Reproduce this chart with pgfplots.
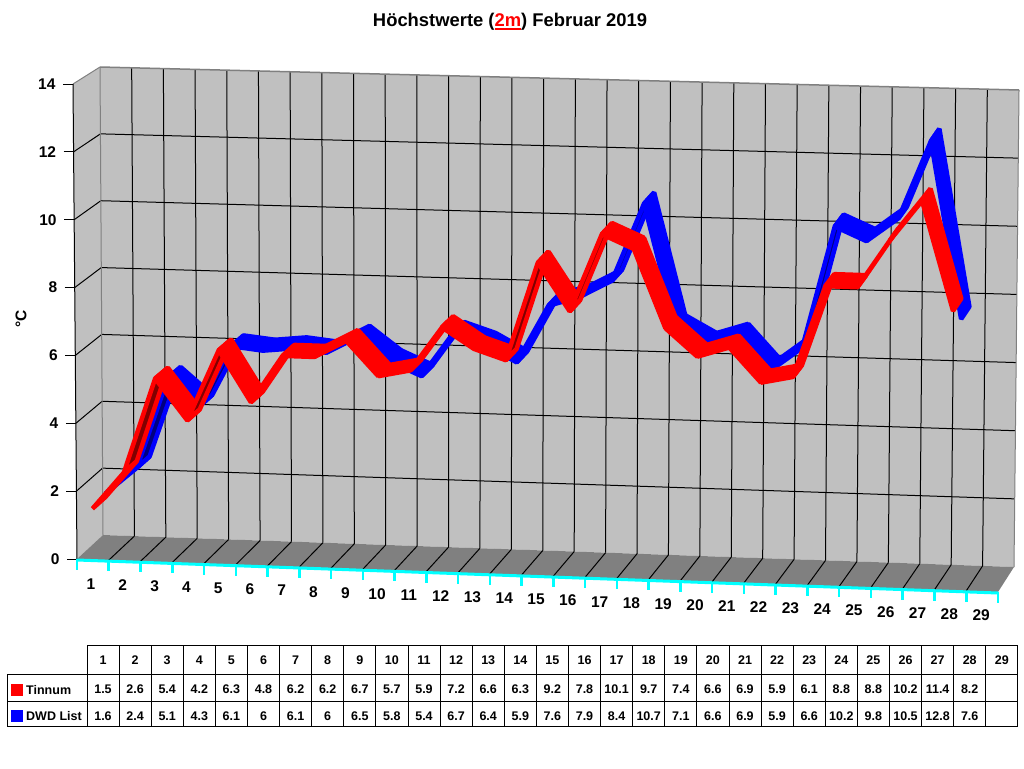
\documentclass[border=0pt]{standalone}
\usepackage{fontspec}
\setmainfont{Liberation Sans}
\usepackage{pgfplots}
\usepackage{pgfplotstable}
\pgfplotsset{compat=1.18}

\definecolor{wall}{HTML}{C0C0C0}
\definecolor{boden}{HTML}{808080}
\definecolor{dunkelrot}{HTML}{800000}
\definecolor{dunkelblau}{HTML}{000080}
\definecolor{tuerkis}{HTML}{00FFFF}

\pgfplotstableread{
tag tinnum dwd
1 1.5 1.6
2 2.6 2.4
3 5.4 5.1
4 4.2 4.3
5 6.3 6.1
6 4.8 6
7 6.2 6.1
8 6.2 6
9 6.7 6.5
10 5.7 5.8
11 5.9 5.4
12 7.2 6.7
13 6.6 6.4
14 6.3 5.9
15 9.2 7.6
16 7.8 7.9
17 10.1 8.4
18 9.7 10.7
19 7.4 7.1
20 6.6 6.6
21 6.9 6.9
22 5.9 5.9
23 6.1 6.6
24 8.8 10.2
25 8.8 9.8
26 10.2 10.5
27 11.4 12.8
28 8.2 7.6
}\daten

% line in chart space: slot, depth, value twice, then style
\newcommand\linie[7]{%
  \pgfmathsetmacro\xa{px(#1,#2,#3)}\pgfmathsetmacro\ya{py(#1,#2,#3)}%
  \pgfmathsetmacro\xb{px(#4,#5,#6)}\pgfmathsetmacro\yb{py(#4,#5,#6)}%
  \edef\tmp{\noexpand\addplot[#7] coordinates {(\xa,\ya) (\xb,\yb)};}\tmp
}

% one series as a ribbon: column, depth from, depth to, colour, underside colour
\newcommand\band[5]{%
  \pgfplotsforeachungrouped \i in {0,...,26}{%
    \pgfmathtruncatemacro\j{\i+1}%
    \pgfplotstablegetelem{\i}{#1}\of\daten \let\va\pgfplotsretval
    \pgfplotstablegetelem{\j}{#1}\of\daten \let\vb\pgfplotsretval
    \pgfmathsetmacro\ua{\i+0.5}\pgfmathsetmacro\ub{\i+1.5}%
    \pgfmathsetmacro\xa{px(\ua,#2,\va)}\pgfmathsetmacro\ya{py(\ua,#2,\va)}%
    \pgfmathsetmacro\xb{px(\ub,#2,\vb)}\pgfmathsetmacro\yb{py(\ub,#2,\vb)}%
    \pgfmathsetmacro\xc{px(\ub,#3,\vb)}\pgfmathsetmacro\yc{py(\ub,#3,\vb)}%
    \pgfmathsetmacro\xd{px(\ua,#3,\va)}\pgfmathsetmacro\yd{py(\ua,#3,\va)}%
    \pgfmathsetmacro\kreuz{(\xb-\xa)*(\yd-\ya)-(\yb-\ya)*(\xd-\xa)}%
    \ifdim\kreuz pt>0pt \def\innen{#5}\else\def\innen{#4}\fi
    \edef\tmp{\noexpand\addplot[fill=\innen,draw=#4,line width=4.5pt,line join=bevel]
      coordinates {(\xa,\ya) (\xb,\yb) (\xc,\yc) (\xd,\yd)} -- cycle;}\tmp
  }%
}

\begin{document}
\begin{tikzpicture}[declare function={
    px(\u,\w,\v)=(1-\w)*((1-\u/29)*(77-4*\v/14)+\u/29*(998+5*\v/14))+\w*((1-\u/29)*(103-3*\v/14)+\u/29*(1014+5*\v/14));
    py(\u,\w,\v)=(1-\w)*((1-\u/29)*(559-475*\v/14)+\u/29*(592-477*\v/14))+\w*((1-\u/29)*(535-468*\v/14)+\u/29*(567-477*\v/14));
  }]
\begin{axis}[
    scale only axis,
    width=1024pt, height=768pt,
    xmin=0, xmax=1024, ymin=0, ymax=768,
    y dir=reverse,
    hide axis,
    clip=false,
  ]
  % full page, keeps the picture at 1024x768
  \addplot[fill=white,draw=none] coordinates {(0,0) (1024,0) (1024,768) (0,768)} -- cycle;

  % walls and floor
  \addplot[fill=wall,draw=none] coordinates {(77,559) (73,84) (100,67) (1019,90) (1014,567) (103,535)} -- cycle;
  \addplot[fill=boden,draw=none] coordinates {(77,559) (103,535) (1014,567) (998,592)} -- cycle;

  % grid
  \pgfplotsinvokeforeach{2,4,...,12}{
    \linie{0}{1}{#1}{29}{1}{#1}{black,line width=1pt}
    \linie{0}{0}{#1}{0}{1}{#1}{black,line width=1pt}
  }
  \pgfplotsinvokeforeach{1,...,28}{
    \linie{#1}{1}{0}{#1}{1}{14}{black,line width=1pt}
    \linie{#1}{0}{0}{#1}{1}{0}{black,line width=1pt}
  }
  \linie{0}{1}{0}{0}{1}{14}{boden,line width=1pt}
  \linie{29}{1}{0}{29}{1}{14}{boden,line width=1pt}
  \linie{0}{1}{14}{29}{1}{14}{boden,line width=1.5pt}
  \linie{0}{0}{14}{0}{1}{14}{boden,line width=1pt}
  \linie{0}{0}{0}{0}{0}{14}{black,line width=1pt}

  % series, back one first
  \band{dwd}{0.5}{1}{blue}{dunkelblau}
  \band{tinnum}{0}{0.5}{red}{dunkelrot}

  % value axis
  \pgfplotsinvokeforeach{0,2,...,14}{
    \pgfmathsetmacro\tx{px(0,0,#1)}\pgfmathsetmacro\ty{py(0,0,#1)}
    \edef\tmp{\noexpand\addplot[black,line width=1pt] coordinates {(\tx-10,\ty) (\tx,\ty)};
      \noexpand\node[anchor=east,font=\noexpand\fontsize{15.5}{17}\noexpand\selectfont\noexpand\bfseries]
        at (axis cs:{\tx-14},\ty) {#1};}\tmp
  }
  % day axis
  \addplot[tuerkis,line width=3pt] coordinates {(77,560) (998,593)};
  \pgfplotsinvokeforeach{0,...,29}{
    \pgfmathsetmacro\tx{px(#1,0,0)}\pgfmathsetmacro\ty{py(#1,0,0)}
    \edef\tmp{\noexpand\addplot[tuerkis,line width=2.5pt] coordinates {(\tx,\ty) (\tx,\ty+11)};}\tmp
  }
  \pgfplotsforeachungrouped \i in {1,...,29}{
    \pgfmathsetmacro\tx{91+31.79*(\i-1)}\pgfmathsetmacro\ty{584+1.107*(\i-1)}
    \edef\tmp{\noexpand\node[font=\noexpand\fontsize{15.5}{17}\noexpand\selectfont\noexpand\bfseries]
      at (axis cs:\tx,\ty) {\i};}\tmp
  }

  % title and unit
  \node[font=\fontsize{18.4}{20}\selectfont\bfseries] at (axis cs:510,21.5)
    {Höchstwerte (\textcolor{red}{\rlap{\rule[-3.7pt]{26.6pt}{2.2pt}}2m}) Februar 2019};
  \node[rotate=90,font=\fontsize{15.5}{17}\selectfont\bfseries] at (axis cs:21,319) {°C};

  % data table
  \addplot[black,line width=1pt] coordinates {(87,645) (1018,645)};
  \addplot[black,line width=1pt] coordinates {(7,674) (1018,674)};
  \addplot[black,line width=1pt] coordinates {(7,701) (1018,701)};
  \addplot[black,line width=1pt] coordinates {(7,726) (1018,726)};
  \addplot[black,line width=1pt] coordinates {(7,674) (7,726)};
  \pgfplotsinvokeforeach{0,...,29}{
    \pgfmathsetmacro\tx{87+32.1*#1}
    \edef\tmp{\noexpand\addplot[black,line width=1pt] coordinates {(\tx,645) (\tx,726)};}\tmp
  }
  \pgfplotsforeachungrouped \i in {0,...,28}{
    \pgfmathsetmacro\tx{103+32.1*\i}
    \pgfmathtruncatemacro\tagnr{\i+1}
    \edef\tmp{\noexpand\node[font=\noexpand\fontsize{12.5}{14}\noexpand\selectfont\noexpand\bfseries]
      at (axis cs:\tx,660) {\tagnr};}\tmp
  }
  \pgfplotsforeachungrouped \i in {0,...,27}{
    \pgfmathsetmacro\tx{103+32.1*\i}
    \pgfplotstablegetelem{\i}{tinnum}\of\daten \let\va\pgfplotsretval
    \pgfplotstablegetelem{\i}{dwd}\of\daten \let\vb\pgfplotsretval
    \edef\tmp{\noexpand\node[font=\noexpand\fontsize{12.5}{14}\noexpand\selectfont\noexpand\bfseries]
      at (axis cs:\tx,689) {\va};
      \noexpand\node[font=\noexpand\fontsize{12.5}{14}\noexpand\selectfont\noexpand\bfseries]
      at (axis cs:\tx,716) {\vb};}\tmp
  }
  \addplot[fill=red,draw=none] coordinates {(11,684) (23,684) (23,696) (11,696)} -- cycle;
  \addplot[fill=blue,draw=none] coordinates {(11,710) (23,710) (23,722) (11,722)} -- cycle;
  \node[anchor=west,inner sep=0pt,font=\fontsize{12.5}{14}\selectfont\bfseries] at (axis cs:26,690) {Tinnum};
  \node[anchor=west,inner sep=0pt,font=\fontsize{12.5}{14}\selectfont\bfseries] at (axis cs:26,716) {DWD List};
\end{axis}
\end{tikzpicture}
\end{document}
